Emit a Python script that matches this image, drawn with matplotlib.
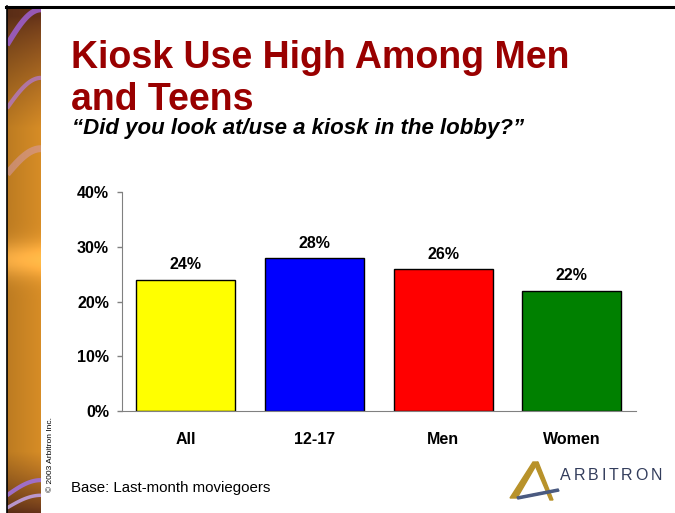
import numpy as np
import matplotlib
matplotlib.use("Agg")
import matplotlib.pyplot as plt
from matplotlib.patches import Polygon
from matplotlib.lines import Line2D

# Data
categories = ["All", "12-17", "Men", "Women"]
values = [24, 28, 26, 22]
bar_colors = ["#ffff00", "#0000ff", "#ff0000", "#008000"]
y_ticks = [0, 10, 20, 30, 40]

W, H = 675, 513
plt.rcParams["font.family"] = ["Liberation Sans", "DejaVu Sans"]
fig = plt.figure(figsize=(W / 100, H / 100), dpi=100)
fig.patch.set_facecolor("white")


def px(x, y):
    """Convert pixel coordinates (top-left origin) to figure fraction."""
    return x / W, 1 - y / H


# Decorative left strip
strip = fig.add_axes([7 / W, 0, 34 / W, 1 - 7 / H])
strip.set_axis_off()
ny, nx = 400, 40
yy = np.linspace(0, 1, ny)[:, None]
xx = np.linspace(0, 1, nx)[None, :]
dark = np.array([0.40, 0.20, 0.10])
warm = np.array([0.84, 0.55, 0.15])
t = np.clip((yy - 0.02) / 0.22, 0, 1) * np.clip((1.0 - yy) / 0.12, 0, 1)
t = t ** 0.8
img = dark[None, None, :] * (1 - t[..., None]) + warm[None, None, :] * t[..., None]
img = img * (0.88 + 0.12 * xx[..., None])
img = np.broadcast_to(img, (ny, nx, 3)).copy()
glow = np.exp(-((yy - 0.5) / 0.035) ** 2) * 0.22
img = np.clip(img + glow[..., None] * np.array([1.0, 0.85, 0.6]), 0, 1)
strip.imshow(img, aspect="auto", extent=[0, 1, 1, 0])
xs = np.linspace(0, 1, 30)
for y0, rise, lw, col, a in [(0.075, 0.07, 4, "#9a5cc0", 0.95),
                             (0.20, 0.06, 3, "#b47ad0", 0.75),
                             (0.33, 0.05, 5, "#d8a0c8", 0.45),
                             (0.965, 0.03, 3, "#a070d0", 0.95),
                             (0.99, 0.025, 2.5, "#c0a0e0", 0.9)]:
    strip.plot(xs, y0 - rise * np.sin(xs * np.pi / 2), color=col, lw=lw, alpha=a,
               solid_capstyle="butt")
strip.set_xlim(0, 1)
strip.set_ylim(1, 0)

# Frame lines
fig.add_artist(Line2D([px(6, 0)[0], 1], [px(0, 6.5)[1]] * 2, color="black", lw=2.2,
                      transform=fig.transFigure))
fig.add_artist(Line2D([px(6.5, 0)[0]] * 2, [0, px(0, 6)[1]], color="black", lw=1.2,
                      transform=fig.transFigure))

# Titles
title_color = "#990000"
fig.text(*px(71, 68), "Kiosk Use High Among Men", color=title_color, fontsize=27,
         fontweight="bold", va="baseline", ha="left")
fig.text(*px(71, 110), "and Teens", color=title_color, fontsize=27,
         fontweight="bold", va="baseline", ha="left")
fig.text(*px(72, 134), "\u201cDid you look at/use a kiosk in the lobby?\u201d", color="black",
         fontsize=16, fontweight="bold", style="italic", va="baseline", ha="left")

# Bar chart
ax_left, ax_right, ax_top, ax_bottom = 121.5, 636, 192, 411
ax = fig.add_axes([ax_left / W, 1 - ax_bottom / H, (ax_right - ax_left) / W,
                   (ax_bottom - ax_top) / H])
x = np.arange(len(categories))
ax.bar(x, values, width=0.77, color=bar_colors, edgecolor="black", linewidth=1.0, zorder=2)
for xi, v in zip(x, values):
    ax.text(xi, v + 1.85, f"{v}%", ha="center", va="baseline", fontsize=11.5,
            fontweight="bold")
ax.set_xlim(-0.5, len(categories) - 0.5)
ax.set_ylim(0, 40)
ax.set_yticks(y_ticks)
ax.set_yticklabels([f"{t}%" for t in y_ticks], fontsize=11.5, fontweight="bold")
ax.set_xticks(x)
ax.set_xticklabels(categories, fontsize=11.5, fontweight="bold")
ax.tick_params(axis="x", length=0, pad=15)
ax.tick_params(axis="y", length=3.5, width=1, color="#808080", pad=5.5, direction="out")
for s in ["top", "right"]:
    ax.spines[s].set_visible(False)
ax.spines["left"].set_color("#808080")
ax.spines["bottom"].set_color("#808080")
ax.set_facecolor("none")

# Footer
fig.text(*px(71, 492), "Base: Last-month moviegoers", fontsize=10.8, va="baseline",
         ha="left")
fig.text(*px(51, 455), "\u00a9 2003 Arbitron Inc.", fontsize=6, rotation=90, va="center",
         ha="center")

# Logo mark
gold = "#b8922a"
fig.add_artist(Polygon([px(510, 498), px(533, 462), px(538, 462), px(517, 498)],
                       closed=True, color=gold, transform=fig.transFigure))
fig.add_artist(Polygon([px(535, 465), px(538, 462), px(553, 500), px(550, 500)],
                       closed=True, color=gold, transform=fig.transFigure))
fig.add_artist(Polygon([px(517, 497), px(558, 489), px(559, 491), px(518, 499)],
                       closed=True, color="#4a5a80", transform=fig.transFigure))

# Logo wordmark, letters spread evenly across its width
renderer = fig.canvas.get_renderer()
letters = "ARBITRON"
x_start, x_end = 560, 662
arts = [fig.text(0, 0, ch, fontsize=11.5, color="#333d5c", va="baseline", ha="left")
        for ch in letters]
widths = [a.get_window_extent(renderer).width for a in arts]
gap = (x_end - x_start - sum(widths)) / (len(letters) - 1)
cx = x_start
for a, w in zip(arts, widths):
    a.set_position(px(cx, 480))
    cx += w + gap

fig.savefig("out.png", dpi=100)
